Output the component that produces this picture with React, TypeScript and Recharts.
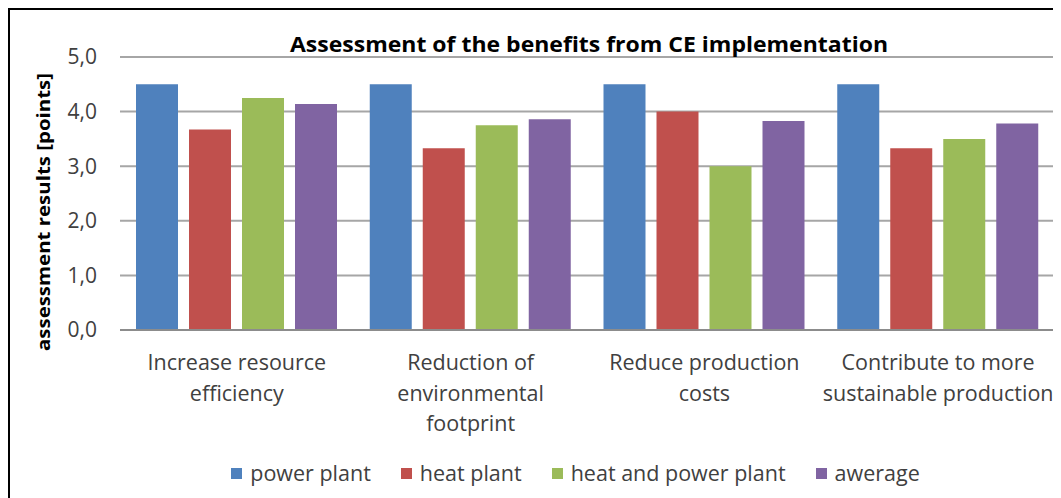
import React from "react";
import { BarChart, Bar, XAxis, YAxis, CartesianGrid, Legend } from "recharts";

const categoryLines: string[][] = [
  ["Increase resource", "efficiency"],
  ["Reduction of", "environmental", "footprint"],
  ["Reduce production", "costs"],
  ["Contribute to more", "sustainable production"],
];
const categories: string[] = categoryLines.map((l) => l.join(" "));
const powerPlant: number[] = [4.5, 4.5, 4.5, 4.5];
const heatPlant: number[] = [3.67, 3.33, 4.0, 3.33];
const heatAndPowerPlant: number[] = [4.25, 3.75, 3.0, 3.5];
const average: number[] = [4.14, 3.86, 3.83, 3.78];
const yTicks: number[] = [0, 1, 2, 3, 4, 5];
const seriesNames: string[] = ["power plant", "heat plant", "heat and power plant", "awerage"];
const seriesKeys: string[] = ["power", "heat", "chp", "avg"];
const seriesColors: string[] = ["#4F81BD", "#C0504D", "#9BBB59", "#8064A2"];
const title = "Assessment of the benefits from CE implementation";
const yLabel = "assessment results [points]";

const data = categories.map((c, i) => ({
  cat: c,
  power: powerPlant[i],
  heat: heatPlant[i],
  chp: heatAndPowerPlant[i],
  avg: average[i],
}));

const FONT = "'Open Sans', 'Noto Sans', sans-serif";

const XTick = (props: any) => {
  const { x, y, payload } = props;
  const idx = categories.indexOf(payload.value);
  const lines = idx >= 0 ? categoryLines[idx] : [String(payload.value)];
  return (
    <g>
      {lines.map((ln, i) => (
        <text
          key={i}
          x={x}
          y={y + 40 + i * 30.5}
          textAnchor="middle"
          fontFamily={FONT}
          fontSize={21.5}
          fill="#404040"
        >
          {ln}
        </text>
      ))}
    </g>
  );
};

const LegendContent = () => (
  <div
    style={{
      display: "flex",
      justifyContent: "center",
      alignItems: "center",
      height: 20,
      paddingLeft: 82,
      fontFamily: FONT,
      fontSize: 21.5,
      color: "#404040",
      whiteSpace: "nowrap",
    }}
  >
    {seriesNames.map((n, i) => (
      <div key={n} style={{ display: "flex", alignItems: "center", marginLeft: i === 0 ? 0 : 30 }}>
        <div style={{ width: 11, height: 11, background: seriesColors[i], marginRight: 8 }} />
        <span style={{ lineHeight: "20px" }}>{n}</span>
      </div>
    ))}
  </div>
);

export default function App() {
  return (
    <div style={{ position: "relative", width: 1053, height: 490 }}>
      <BarChart
        width={1053}
        height={490}
        data={data}
        margin={{ top: 49, right: 6, bottom: 8, left: 62 }}
        barCategoryGap={16}
        barGap={11}
      >
        <CartesianGrid vertical={false} stroke="#a6a6a6" strokeWidth={2} />
        <XAxis
          dataKey="cat"
          height={160}
          tickLine={false}
          tickSize={0}
          tickMargin={0}
          axisLine={{ stroke: "#8c8c8c", strokeWidth: 2 }}
          tick={<XTick />}
          interval={0}
        />
        <YAxis
          width={50}
          domain={[0, 5]}
          ticks={yTicks}
          axisLine={false}
          tickLine={false}
          tickSize={0}
          tickMargin={23}
          tickFormatter={(v: number) => v.toFixed(1).replace(".", ",")}
          tick={{ fontFamily: FONT, fontSize: 21, fill: "#404040" }}
        />
        <Legend
          verticalAlign="middle"
          layout="horizontal"
          content={<LegendContent />}
          wrapperStyle={{ top: 455, left: 0, width: 1053, height: 20 }}
        />
        {seriesKeys.map((k, i) => (
          <Bar key={k} dataKey={k} name={seriesNames[i]} fill={seriesColors[i]} isAnimationActive={false} />
        ))}
        <text
          x={581}
          y={44}
          textAnchor="middle"
          fontFamily={FONT}
          fontWeight="bold"
          fontSize={21}
          fill="#000"
          textLength={598}
          lengthAdjust="spacingAndGlyphs"
        >
          {title}
        </text>
        <text
          x={35}
          y={204}
          transform="rotate(-90, 35, 204)"
          textAnchor="middle"
          dominantBaseline="central"
          fontFamily={FONT}
          fontWeight="bold"
          fontSize={17}
          fill="#000"
          textLength={278}
          lengthAdjust="spacingAndGlyphs"
        >
          {yLabel}
        </text>
      </BarChart>
      <div
        style={{
          position: "absolute",
          left: 0,
          top: 0,
          width: 1053,
          height: 490,
          boxSizing: "border-box",
          borderTop: "2px solid #000",
          borderLeft: "2px solid #000",
          pointerEvents: "none",
        }}
      />
    </div>
  );
}
